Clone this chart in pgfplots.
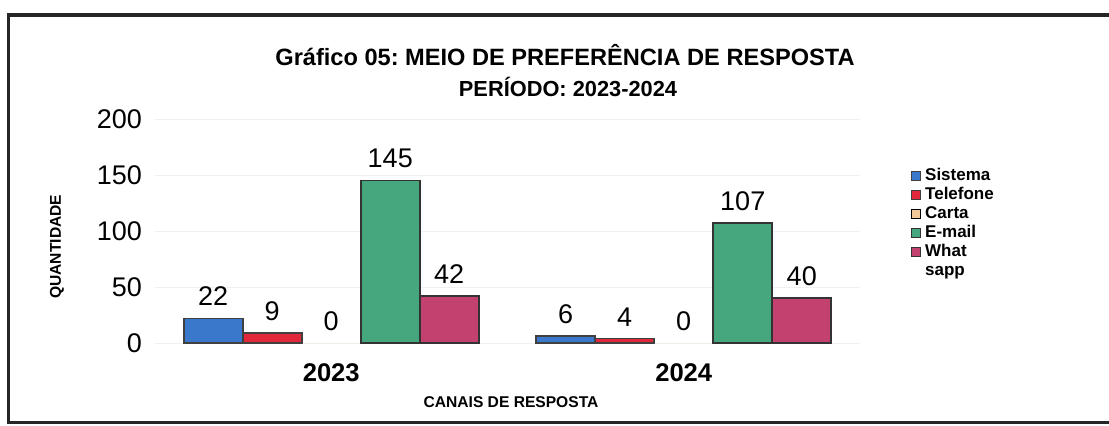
\documentclass[border=0pt]{standalone}
\usepackage{pgfplots}
\pgfplotsset{compat=1.18}
\usepackage{fontspec}
\setmainfont{Liberation Sans}
\frenchspacing
\definecolor{csis}{HTML}{3A78CC}
\definecolor{ctel}{HTML}{E0283A}
\definecolor{ccar}{HTML}{F2C99A}
\definecolor{cema}{HTML}{46A77E}
\definecolor{cwha}{HTML}{C3416E}
\begin{document}
\begin{tikzpicture}
\path[use as bounding box] (0,0) rectangle (554.5pt,212.5pt);
\draw[line width=1.6pt, black!85] (560pt,205pt) -- (4.2pt,205pt) -- (4.2pt,1.2pt) -- (560pt,1.2pt);
\node[font=\bfseries\fontsize{11.8}{13}\selectfont] at (282.5pt,185pt) {Gráfico 05: MEIO DE PREFERÊNCIA DE RESPOSTA};
\node[font=\bfseries\fontsize{10.9}{12}\selectfont] at (284pt,169pt) {PERÍODO: 2023-2024};
\begin{axis}[
  at={(77.5pt,41pt)}, anchor=south west,
  scale only axis, width=352.5pt, height=112pt,
  xmin=-0.5, xmax=1.5, ymin=0, ymax=200,
  ybar=0pt, bar width=29.5pt,
  xtick={0,1}, xticklabels={2023,2024},
  ytick={0,50,100,150,200},
  axis line style={draw=none},
  major tick length=0pt,
  ymajorgrids, grid style={black!6},
  /pgf/number format/assume math mode=true,
  yticklabel style={font=\fontsize{13.5}{14}\selectfont, xshift=-3pt},
  xticklabel style={font=\bfseries\fontsize{12.8}{14}\selectfont, yshift=-7pt},
  nodes near coords,
  every node near coord/.append style={font=\fontsize{13.5}{14}\selectfont, yshift=2.5pt, black},
  xlabel={CANAIS DE RESPOSTA},
  xlabel style={font=\bfseries\fontsize{7.8}{9}\selectfont, at={(axis description cs:0.505,-0.263)}, anchor=center},
  ylabel={QUANTIDADE},
  ylabel style={font=\bfseries\fontsize{7.8}{9}\selectfont, at={(axis description cs:-0.139,0.43)}, anchor=center, rotate=0},
  legend style={at={(axis description cs:1.072,0.79)}, anchor=north west, draw=none, fill=none,
    font=\bfseries\fontsize{8.5}{9.5}\selectfont, row sep=0pt, inner sep=0pt,
    nodes={inner ysep=0.75pt, text height=6.5pt, text depth=1.5pt}},
  legend cell align=left,
  legend image code/.code={\draw[#1,line width=0.4pt] (0pt,-2.2pt) rectangle (4.6pt,2.2pt);},
]
\addplot[fill=csis, draw=black!75, line width=0.8pt] coordinates {(0,22) (1,6)};
\addlegendentry{Sistema}
\addplot[fill=ctel, draw=black!75, line width=0.8pt] coordinates {(0,9) (1,4)};
\addlegendentry{Telefone}
\addplot[fill=ccar, draw=none] coordinates {(0,0) (1,0)};
\addlegendentry{Carta}
\addplot[fill=cema, draw=black!80, line width=0.8pt] coordinates {(0,145) (1,107)};
\addlegendentry{E-mail}
\addplot[fill=cwha, draw=black!80, line width=0.8pt] coordinates {(0,42) (1,40)};
\addlegendentry{What}
\addlegendimage{empty legend}
\addlegendentry{sapp}
\end{axis}
\end{tikzpicture}
\end{document}
